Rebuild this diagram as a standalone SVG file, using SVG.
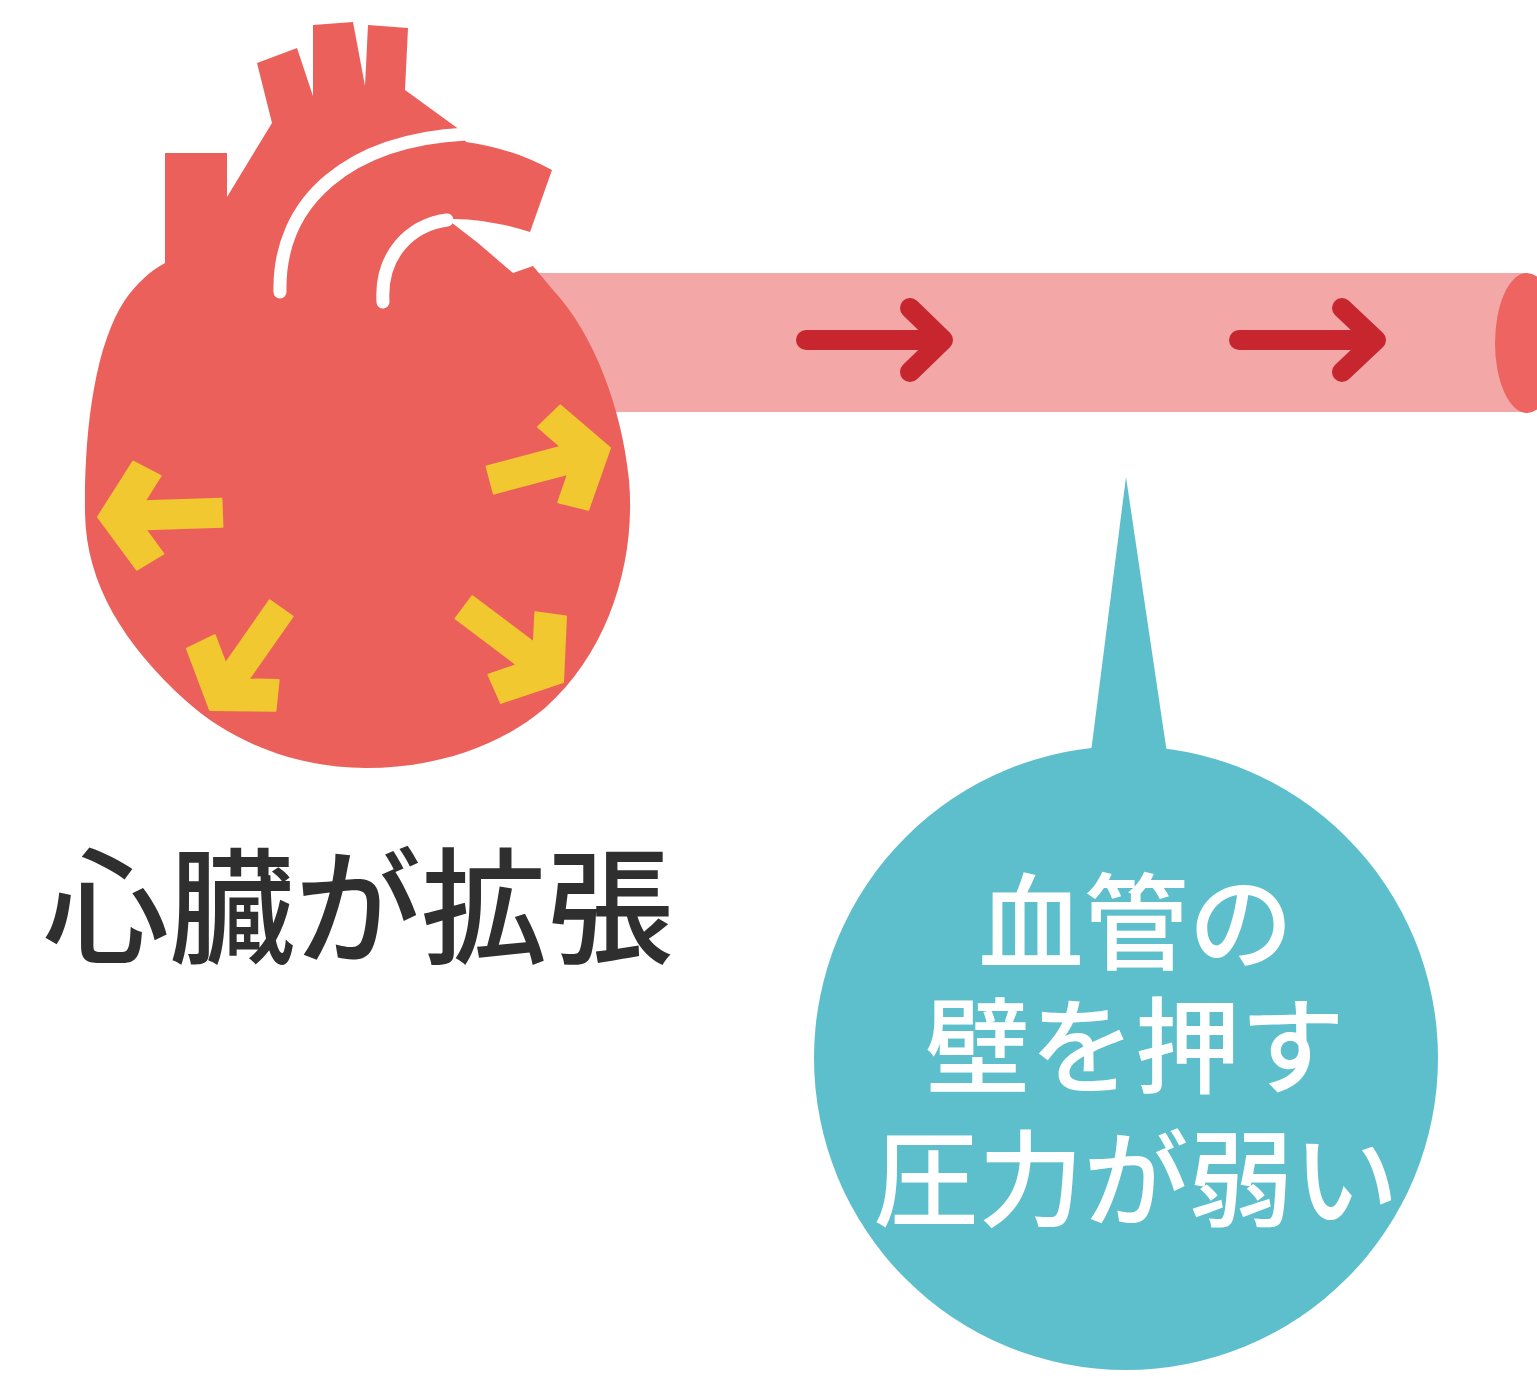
<svg xmlns="http://www.w3.org/2000/svg" width="1537" height="1382" viewBox="0 0 1537 1382">
  <style>
    .heart { fill: #ec605b; }
    .cut { fill: none; stroke: #ffffff; stroke-width: 13; stroke-linecap: round; }
    .expand { fill: #f1c82f; stroke: #f1c82f; stroke-width: 2; stroke-linejoin: round; }
    .flow { fill: none; stroke: #c8262e; stroke-width: 20; stroke-linecap: round; stroke-linejoin: round; }
    .jp { font-family: "Noto Sans CJK JP", "Noto Sans CJK SC", sans-serif; }
    .label { fill: #2f2f2f; font-size: 126px; font-weight: 500; }
    .bubble-text { fill: #ffffff; font-size: 105px; font-weight: 500; }
  </style>
  <defs>
    <!-- chevron arrow pointing along +x, tip at origin -->
    <polygon id="expand-arrow" points="0,0 -37,-54 -64,-39 -47,-14 -124,-14 -124,14 -47,14 -64,39 -37,54"/>
  </defs>

  <rect width="1537" height="1382" fill="#ffffff"/>

  <!-- artery leaving the heart -->
  <g id="vessel">
    <rect x="500" y="273" width="1027" height="139" fill="#f3a8a7"/>
    <ellipse cx="1527" cy="343" rx="32" ry="70" fill="#ee6460"/>
  </g>

  <!-- blood flow arrows inside the artery -->
  <g id="connectors">
    <path class="flow" d="M806,340 H942 M910,308 L943,340 L910,372"/>
    <path class="flow" d="M1239,340 H1375 M1342,308 L1376,340 L1342,372"/>
  </g>

  <!-- heart with expanding arrows -->
  <g id="heart">
    <path class="heart" d="M553,290 C595,335 622,410 629,480 C636,560 610,650 545,708 C495,750 430,768 366,768 C300,768 235,745 185,700 C125,645 86,585 85,513 C84,430 95,345 125,300 C137,283 150,271 165,263 L165,153 L227,153 L227,197 L272,123 L257,63 L297,48 L313,96 L313,25 L353,22 L365,86 L368,25 L408,28 L405,90 L460,130 L466,142 C495,146 525,155 552,170 L530,232 C505,224 475,218 447,219 L478,243 L513,273 L533,266 Z"/>
    <path class="cut" d="M280,292 C278,200 350,140 466,134"/>
    <path class="cut" d="M383,302 C380,255 410,225 447,220"/>
    <use href="#expand-arrow" class="expand" transform="translate(98,517) rotate(178)"/>
    <use href="#expand-arrow" class="expand" transform="translate(210,710) rotate(125)"/>
    <use href="#expand-arrow" class="expand" transform="translate(563,682) rotate(37)"/>
    <use href="#expand-arrow" class="expand" transform="translate(610,448) rotate(-15)"/>
  </g>

  <g id="heart-label">
    <text class="jp label" x="358" y="954" text-anchor="middle">心臓が拡張</text>
  </g>

  <!-- speech bubble pointing at the artery -->
  <g id="bubble">
    <polygon points="1090,760 1126,477 1168,760" fill="#5cbfcb"/>
    <circle cx="1126" cy="1058" r="312" fill="#5cbfcb"/>
    <text class="jp bubble-text" text-anchor="middle" x="1136" y="961">血管の</text>
    <text class="jp bubble-text" text-anchor="middle" x="1135" y="1085">壁を押す</text>
    <text class="jp bubble-text" text-anchor="middle" x="1136" y="1218">圧力が弱い</text>
  </g>
</svg>
